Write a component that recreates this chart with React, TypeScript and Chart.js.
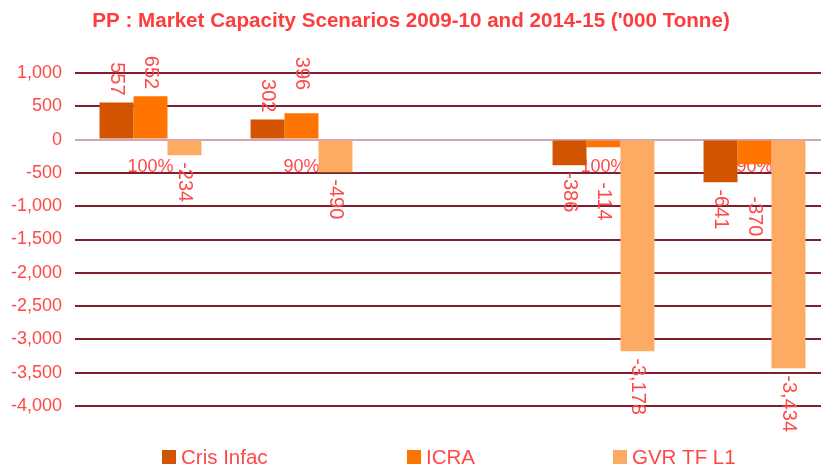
import React, { useEffect, useRef } from 'react';
import { Chart, registerables } from 'chart.js';

Chart.register(...registerables);

const titleText = "PP : Market Capacity Scenarios 2009-10 and 2014-15 ('000 Tonne)";
const categories = ['100%', '90%', '', '100%', '90%'];
const seriesNames = ['Cris Infac', 'ICRA', 'GVR TF L1'];
const crisInfac: (number | null)[] = [557, 302, null, -386, -641];
const icra: (number | null)[] = [652, 396, null, -114, -370];
const gvrTfL1: (number | null)[] = [-234, -490, null, -3178, -3434];
const yMin = -4000;
const yMax = 1000;
const yStep = 500;

const seriesColors = ['#d35400', '#ff7300', '#fdaa63'];
const TEXT = '#ff4848';
const TITLE = '#ff3c3c';
const GRID = '#80202e';
const ZERO = '#d0a6b9';
const FONT = '"Liberation Sans", Arial, Helvetica, sans-serif';

// extra spacing (px) for a few value labels that are moved away from the bar end
const labelNudge = [
  [0, 0, 0, 0, 0],
  [0, 16, 0, 28, 25],
  [0, 0, 0, 0, 0],
];

const fmt = (v: number) => v.toLocaleString('en-US');

const valueLabels = {
  id: 'valueLabels',
  afterDatasetsDraw(chart: any) {
    const ctx = chart.ctx;
    ctx.save();
    ctx.font = `20px ${FONT}`;
    ctx.fillStyle = TEXT;
    ctx.textBaseline = 'middle';
    chart.data.datasets.forEach((ds: any, i: number) => {
      const meta = chart.getDatasetMeta(i);
      meta.data.forEach((el: any, j: number) => {
        const v = ds.data[j];
        if (v == null) return;
        const gap = 7 + (labelNudge[i]?.[j] || 0);
        ctx.save();
        ctx.translate(el.x, v >= 0 ? el.y - gap : el.y + gap);
        ctx.rotate(Math.PI / 2);
        ctx.textAlign = v >= 0 ? 'right' : 'left';
        ctx.fillText(fmt(v), 0, 0);
        ctx.restore();
      });
    });
    ctx.restore();
  },
};

const titleAndLegend = {
  id: 'titleAndLegend',
  afterDraw(chart: any) {
    const ctx = chart.ctx;
    ctx.save();
    ctx.fillStyle = TITLE;
    ctx.font = `bold 20.6px ${FONT}`;
    ctx.textAlign = 'center';
    ctx.textBaseline = 'alphabetic';
    ctx.fillText(titleText, 411, 27);

    const starts = [162, 407, 613];
    ctx.font = `20.5px ${FONT}`;
    ctx.textAlign = 'left';
    chart.data.datasets.forEach((ds: any, i: number) => {
      const x = starts[i];
      ctx.fillStyle = ds.backgroundColor;
      ctx.fillRect(x, 450, 14, 14);
      ctx.fillStyle = TEXT;
      ctx.fillText(ds.label, x + 19, 464);
    });
    ctx.restore();
  },
};

export default function App() {
  const ref = useRef<HTMLCanvasElement | null>(null);

  useEffect(() => {
    if (!ref.current) return;
    const data = [crisInfac, icra, gvrTfL1];
    const chart = new Chart(ref.current, {
      type: 'bar',
      data: {
        labels: categories,
        datasets: seriesNames.map((name, i) => ({
          label: name,
          data: data[i],
          backgroundColor: seriesColors[i],
          borderWidth: 0,
          categoryPercentage: 0.675,
          barPercentage: 1,
        })),
      },
      options: {
        responsive: false,
        animation: false,
        devicePixelRatio: 1,
        layout: { padding: { left: 0, right: 10, top: 73, bottom: 62 } },
        plugins: {
          legend: { display: false },
          title: { display: false },
          tooltip: { enabled: false },
        },
        scales: {
          x: {
            type: 'category',
            position: { y: 0 } as any,
            z: 1,
            grid: { display: false },
            border: { display: false },
            ticks: {
              color: TEXT,
              font: { family: FONT, size: 18 },
              padding: 9,
              autoSkip: false,
              maxRotation: 0,
            },
            afterFit: (s: any) => {
              s.height = 0;
            },
          },
          y: {
            min: yMin,
            max: yMax,
            grid: {
              color: (c: any) => (c.tick && c.tick.value === 0 ? ZERO : GRID),
              lineWidth: 2,
              drawTicks: false,
            },
            border: { display: false },
            ticks: {
              stepSize: yStep,
              color: TEXT,
              font: { family: FONT, size: 18 },
              padding: 13,
              callback: (v: any) => fmt(Number(v)),
            },
            afterFit: (s: any) => {
              s.width = 75;
            },
          },
        },
      },
      plugins: [valueLabels, titleAndLegend],
    });
    return () => chart.destroy();
  }, []);

  return (
    <div
      style={{
        position: 'fixed',
        left: 0,
        top: 0,
        width: 821,
        height: 468,
        overflow: 'hidden',
        background: '#ffffff',
      }}
    >
      <canvas ref={ref} width={840} height={468} style={{ display: 'block', width: 840, height: 468 }} />
    </div>
  );
}
